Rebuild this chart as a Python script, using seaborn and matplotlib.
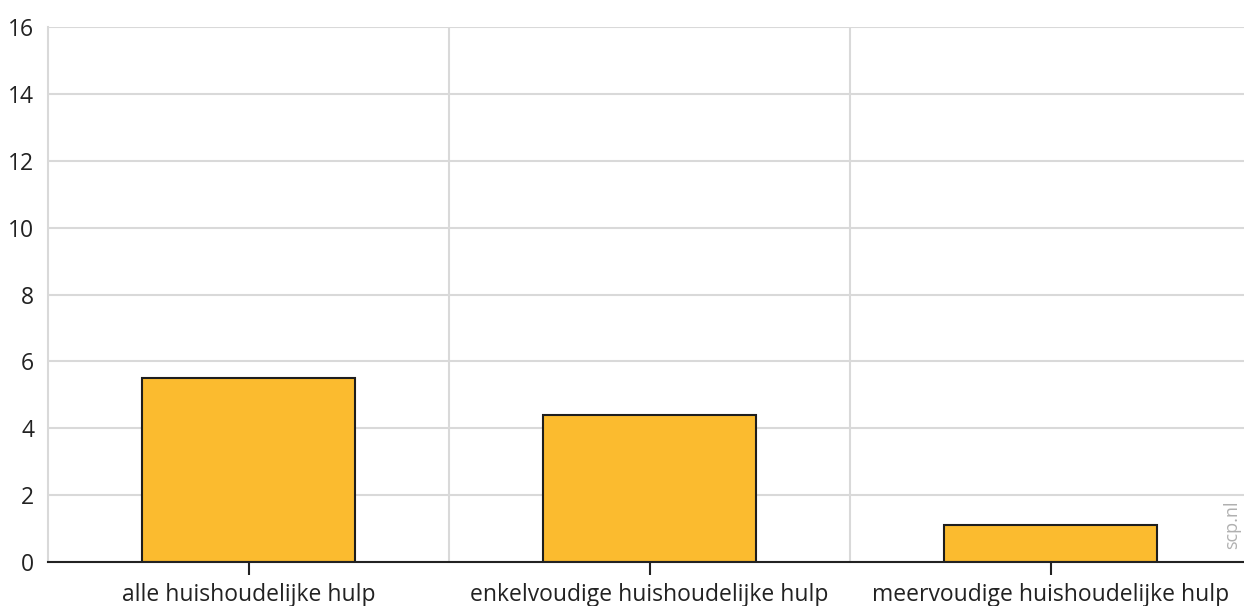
import matplotlib
matplotlib.use("Agg")
import matplotlib.pyplot as plt
import seaborn as sns
import pandas as pd

categories = ["alle huishoudelijke hulp", "enkelvoudige huishoudelijke hulp", "meervoudige huishoudelijke hulp"]
values = [5.5, 4.4, 1.1]
y_ticks = [0, 2, 4, 6, 8, 10, 12, 14, 16]

sns.set_theme(style="white")
plt.rcParams["font.family"] = ["Open Sans", "DejaVu Sans"]

df = pd.DataFrame({"categorie": categories, "waarde": values})

fig = plt.figure(figsize=(12.44, 6.06), dpi=100)
ax = fig.add_axes([48 / 1244, 44 / 606, 1203 / 1244, 535 / 606])

sns.barplot(data=df, x="categorie", y="waarde", color="#fbbb2f", saturation=1,
            width=0.53, edgecolor="#1e1e1e", linewidth=1.5, ax=ax, zorder=3)

ax.set_xlim(-0.5, 2.5)
ax.set_ylim(0, 16)
ax.set_yticks(y_ticks)
ax.set_yticklabels([str(t) for t in y_ticks], fontsize=16.5, color="#222222")
ax.set_xlabel("")
ax.set_ylabel("")

# horizontal grid and vertical separators between categories
ax.set_xticks([0.5, 1.5], minor=True)
ax.grid(axis="y", color="#d9d9d9", linewidth=1.5, zorder=0)
ax.grid(axis="x", which="minor", color="#d9d9d9", linewidth=1.5, zorder=0)
ax.grid(axis="x", which="major", visible=False)

for side in ["top", "right"]:
    ax.spines[side].set_visible(False)
ax.spines["left"].set_color("#d9d9d9")
ax.spines["left"].set_linewidth(1.5)
ax.spines["bottom"].set_color("#222222")
ax.spines["bottom"].set_linewidth(1.5)
ax.spines["bottom"].set_zorder(4)

ax.tick_params(axis="y", length=0, pad=10)
ax.tick_params(axis="x", which="major", length=9, width=1.5, color="#222222",
               direction="out", labelsize=16.5, labelcolor="#222222", pad=6, bottom=True)
ax.tick_params(axis="x", which="minor", length=0)
for lbl in ax.get_yticklabels():
    lbl.set_horizontalalignment("right")

fig.text(1232 / 1244, 1 - 525 / 606, "scp.nl", rotation=90, color="#b0b0b0",
         fontsize=13, ha="center", va="center")

fig.savefig("out.png", dpi=100)
